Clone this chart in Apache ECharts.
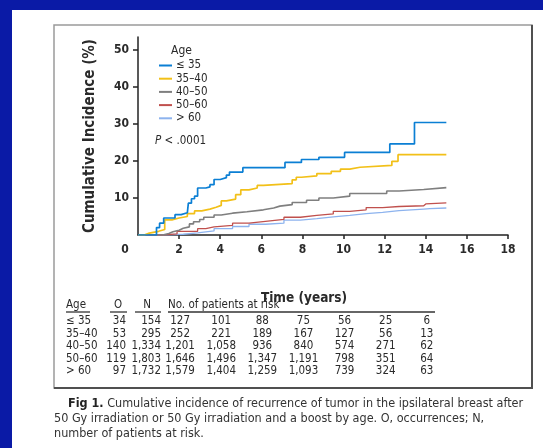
<!DOCTYPE html>
<html><head><meta charset="utf-8">
<script src="https://cdn.jsdelivr.net/npm/echarts@6/dist/echarts.min.js"></script>
<style>html,body{margin:0;padding:0;background:#0a1aa6}#c{width:543px;height:448px}</style>
</head><body><div id="c"></div>
<script>
// ---------- DATA ----------
const seriesNames = ['≤ 35', '35–40', '40–50', '50–60', '> 60'];
const xTicks = [0, 2, 4, 6, 8, 10, 12, 14, 16, 18];
const yTicks = [10, 20, 30, 40, 50];
const le35 = [[0,0],[0.9,2],[1.05,3.2],[1.25,4.6],[1.8,5.5],[2.1,6.0],[2.4,6.4],[2.45,8.6],[2.6,9.8],[2.75,10.5],[2.9,12.7],[3.3,13.0],[3.5,13.6],[3.7,15.0],[4.0,15.5],[4.3,16.2],[4.45,17.0],[5.1,18.2],[7.15,19.6],[7.95,20.4],[8.8,21.0],[10.05,22.3],[12.25,24.6],[13.45,30.4],[15,30.4]];
const a35_40 = [[0,0],[0.3,0.5],[0.55,1.0],[1.0,1.5],[1.3,4.1],[1.65,4.6],[2.0,5.0],[2.4,5.8],[2.75,6.5],[3.1,7.0],[3.5,7.5],[3.8,8.0],[4.05,9.2],[4.3,9.7],[4.75,10.9],[5.0,12.2],[5.4,12.7],[5.8,13.4],[6.1,13.9],[7.5,14.9],[7.7,15.6],[7.95,16.0],[8.7,16.6],[9.4,17.2],[9.85,17.8],[10.3,18.3],[10.8,18.8],[12.35,19.9],[12.65,21.7],[15,21.7]];
const a40_50 = [[0,0],[1.2,0.4],[1.5,0.9],[1.7,1.3],[2.0,1.8],[2.2,2.2],[2.5,3.0],[2.7,3.6],[3.0,4.2],[3.2,4.8],[3.7,5.4],[4.05,5.9],[4.6,6.3],[5.3,6.8],[6.1,7.3],[6.6,7.8],[6.9,8.2],[7.5,8.8],[8.2,9.4],[8.8,10.0],[9.5,10.5],[10.3,11.2],[12.1,11.9],[12.7,12.3],[13.9,12.8],[15,12.8]];
const a50_60 = [[0,0],[1.2,0.3],[1.9,1.0],[2.9,1.7],[3.3,2.2],[3.7,2.6],[4.6,3.2],[5.4,3.7],[6.2,4.2],[7.1,4.8],[7.9,5.3],[8.7,5.7],[9.5,6.4],[10.3,6.8],[11.1,7.4],[11.9,7.7],[12.7,7.9],[13.9,8.4],[14.0,8.7],[15,8.7]];
const gt60 = [[0,0],[1.2,0.2],[2.2,0.6],[2.9,1.1],[3.7,1.7],[4.6,2.3],[5.4,2.9],[6.2,3.2],[7.1,4.0],[7.9,4.4],[8.7,4.9],[9.5,5.3],[10.3,5.8],[11.1,6.1],[11.9,6.6],[12.7,7.0],[13.9,7.1],[14.2,7.3],[15,7.3]];
const seriesData = [le35, a35_40, a40_50, a50_60, gt60];
const pValueText = '< .0001';
const tableAges = ['≤ 35', '35–40', '40–50', '50–60', '> 60'];
const occurrences = [34, 53, 140, 119, 97];
const patientsN = [154, 295, 1334, 1803, 1732];
const riskTimes = [2, 4, 6, 8, 10, 12, 14];
const atRisk = [
  [127, 101, 88, 75, 56, 25, 6],
  [252, 221, 189, 167, 127, 56, 13],
  [1201, 1058, 936, 840, 574, 271, 62],
  [1646, 1496, 1347, 1191, 798, 351, 64],
  [1579, 1404, 1259, 1093, 739, 324, 63]
];
const captionLines = [
  ['Fig 1.', ' Cumulative incidence of recurrence of tumor in the ipsilateral breast after'],
  ['', '50 Gy irradiation or 50 Gy irradiation and a boost by age. O, occurrences; N,'],
  ['', 'number of patients at risk.']
];

// ---------- STYLE ----------
const FONT = '"Liberation Sans Narrow","DejaVu Sans Condensed","Arial Narrow",sans-serif';
const colors = ['#0b7fd4', '#f2c018', '#7f7f7f', '#c0504d', '#8db3ee'];
const widths = [1.7, 1.7, 1.6, 1.3, 1.3];
const TXT = '#2a2a2a';

const chart = echarts.init(document.getElementById('c'), null, {renderer: 'canvas'});
const fmt = n => n.toLocaleString('en-US');

const option = {
  backgroundColor: '#0a1aa6',
  animation: false,
  grid: {left: 138, top: 37, right: 35, bottom: 213, containLabel: false},
  legend: {
    orient: 'vertical', left: 154, top: 54, itemGap: 0.2,
    itemWidth: 13, itemHeight: 2, icon: 'rect',
    textStyle: {fontFamily: FONT, fontSize: 11.5, color: TXT, lineHeight: 13, padding: [0, 0, 0, -1]},
    data: seriesNames
  },
  xAxis: {
    type: 'value', min: 0, max: 18, interval: 2,
    axisLine: {show: true, lineStyle: {color: '#222', width: 1.5}},
    axisTick: {show: true, length: 4, customValues: xTicks.filter(v => v > 0), lineStyle: {color: '#222', width: 1.5}},
    axisLabel: {
      customValues: xTicks, margin: 9, fontSize: 12, color: TXT, fontFamily: FONT, fontWeight: 'bold',
      formatter: v => v === 0 ? '{z|0}' : String(v),
      rich: {z: {padding: [0, 26, 0, 0], fontSize: 12, fontFamily: FONT, fontWeight: 'bold', color: TXT}}
    },
    splitLine: {show: false},
    name: 'Time (years)', nameLocation: 'middle', nameGap: 56,
    nameTextStyle: {fontFamily: FONT, fontSize: 13.5, color: TXT, fontWeight: 'bold', padding: [0, 38, 0, 0]}
  },
  yAxis: {
    type: 'value', min: 0, max: 53.5, interval: 10,
    axisLine: {show: true, lineStyle: {color: '#222', width: 1.5}},
    axisTick: {show: true, length: 5, customValues: yTicks, lineStyle: {color: '#222', width: 1.5}},
    axisLabel: {customValues: yTicks, margin: 9, fontSize: 12, color: TXT, fontFamily: FONT, fontWeight: 'bold'},
    splitLine: {show: false},
    name: 'Cumulative Incidence (%)', nameLocation: 'middle', nameGap: 40,
    nameTextStyle: {fontFamily: FONT, fontSize: 15, color: TXT, fontWeight: 'bold'}
  },
  series: seriesNames.map((name, i) => ({
    name, type: 'line', step: 'end', data: seriesData[i], showSymbol: false, symbol: 'none',
    color: colors[i], lineStyle: {color: colors[i], width: widths[i]}, z: 10 - i
  })),
  graphic: []
};
chart.setOption(option);

// Build annotation texts / table using axis scale
const g = [];
g.push({type: 'rect', z: -20, silent: true, shape: {x: 12, y: 10, width: 540, height: 450}, style: {fill: '#ffffff'}});
g.push({type: 'rect', z: -10, silent: true, shape: {x: 54, y: 25, width: 478, height: 363}, style: {fill: 'none', stroke: '#9a9a9a', lineWidth: 1.5}});
g.push({type: 'polyline', z: -9, silent: true, shape: {points: [[532, 25], [532, 388], [54, 388]]}, style: {fill: 'none', stroke: '#505050', lineWidth: 2}});
g.push({type: 'text', x: 171, y: 51, style: {text: 'Age', font: '12px ' + FONT, fill: TXT, verticalAlign: 'middle'}});
g.push({type: 'text', x: 155, y: 141, style: {
  text: '{i|P} ' + pValueText, font: '11.5px ' + FONT, fill: TXT, verticalAlign: 'middle',
  rich: {i: {fontStyle: 'italic', fontFamily: FONT, fontSize: 11.5, fill: TXT}}
}});

const tFont = '11.5px ' + FONT;
const headY = 305, rowY0 = 321, rowStep = 12.55;
const colAge = 66, colO = 126, colN = 161;
const riskX = riskTimes.map(t => chart.convertToPixel({xAxisIndex: 0}, t));
g.push({type: 'text', x: colAge, y: headY, style: {text: 'Age', font: tFont, fill: TXT, verticalAlign: 'middle', align: 'left'}});
g.push({type: 'text', x: 118, y: headY, style: {text: 'O', font: tFont, fill: TXT, verticalAlign: 'middle', align: 'center'}});
g.push({type: 'text', x: 147, y: headY, style: {text: 'N', font: tFont, fill: TXT, verticalAlign: 'middle', align: 'center'}});
g.push({type: 'text', x: 168, y: headY, style: {text: 'No. of patients at risk', font: tFont, fill: TXT, verticalAlign: 'middle', align: 'left'}});
[[66, 90], [110, 127], [135, 161], [168, 435]].forEach(([a, b]) => {
  g.push({type: 'line', shape: {x1: a, y1: 312, x2: b, y2: 312}, style: {stroke: '#333', lineWidth: 1.3}});
});
tableAges.forEach((age, r) => {
  const y = rowY0 + r * rowStep;
  g.push({type: 'text', x: colAge, y, style: {text: age, font: tFont, fill: TXT, verticalAlign: 'middle', align: 'left'}});
  g.push({type: 'text', x: colO, y, style: {text: fmt(occurrences[r]), font: tFont, fill: TXT, verticalAlign: 'middle', align: 'right'}});
  g.push({type: 'text', x: colN, y, style: {text: fmt(patientsN[r]), font: tFont, fill: TXT, verticalAlign: 'middle', align: 'right'}});
  atRisk[r].forEach((v, c) => {
    g.push({type: 'text', x: riskX[c] + 1, y, style: {text: fmt(v), font: tFont, fill: TXT, verticalAlign: 'middle', align: 'center'}});
  });
});
const capY = [404, 419, 434];
captionLines.forEach((ln, i) => {
  const txt = (ln[0] ? '{b|' + ln[0] + '}' : '') + ln[1];
  g.push({type: 'text', x: ln[0] ? 68 : 54, y: capY[i], style: {
    text: txt, font: '12.5px ' + FONT, fill: '#333', verticalAlign: 'middle', align: 'left',
    rich: {b: {fontWeight: 'bold', fontFamily: FONT, fontSize: 12.5, fill: '#222'}}
  }});
});
chart.setOption({graphic: g});
</script>
</body></html>
